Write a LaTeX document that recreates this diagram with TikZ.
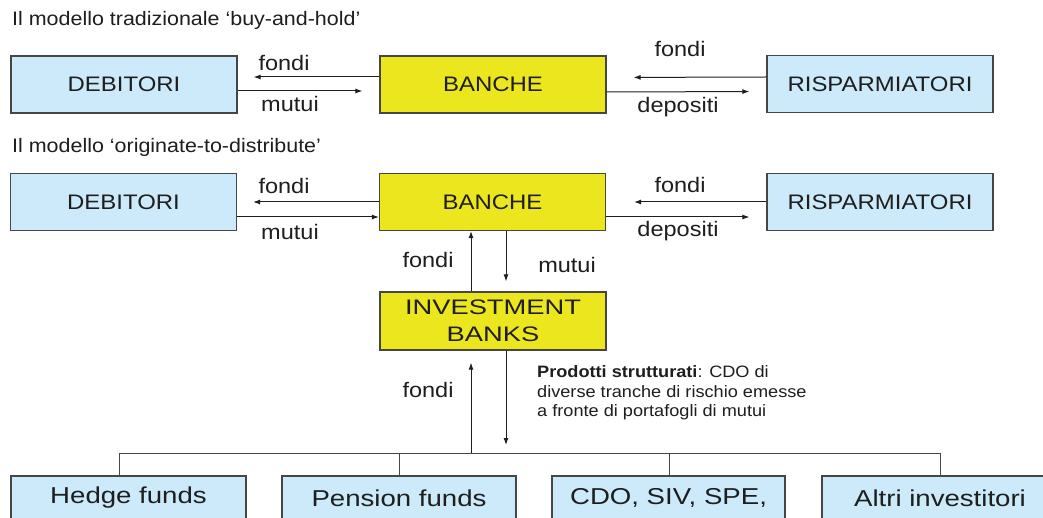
\documentclass[tikz,border=0pt]{standalone}
\usepackage{fontspec}
\setmainfont{Liberation Sans}[FakeStretch=1.1]
\newfontfamily\boxf{Liberation Sans}[FakeStretch=1.14]
\newfontfamily\ibf{Liberation Sans}[FakeStretch=1.3]
\newfontfamily\botf{Liberation Sans}[FakeStretch=1.2]
\newfontfamily\labf{Liberation Sans}[FakeStretch=1.12]
\usetikzlibrary{arrows.meta,calc}
\definecolor{lblue}{RGB}{204,234,250}
\definecolor{ylw}{RGB}{236,230,30}
\definecolor{bord}{RGB}{70,70,70}
\definecolor{txt}{RGB}{30,30,30}
\begin{document}
\begin{tikzpicture}[x=1pt,y=-1pt,
  box/.style={draw=bord, line width=1.2pt, fill=lblue, minimum width=226pt, minimum height=57pt, inner sep=0pt, text=txt, font=\boxf\fontsize{21}{27}\selectfont, align=center},
  ybox/.style={box, fill=ylw},
  fbox/.style={box, minimum height=44pt, font=\botf\fontsize{23}{26}\selectfont},
  lab/.style={text=txt, font=\labf\fontsize{21}{23}\selectfont, inner sep=0pt},
  ttl/.style={text=txt, font=\fontsize{19.5}{22}\selectfont, inner sep=0pt, anchor=west},
  arr/.style={-{Latex[length=7pt,width=5pt]}, line width=1pt, draw=txt},
  ln/.style={line width=1pt, draw=bord},
]
\useasboundingbox (0,0) rectangle (1043,518);
\fill[white] (0,0) rectangle (1043,518);

% ---- row 1
\node[ttl] (t1) at (12,20) {Il modello tradizionale ‘buy-and-hold’};
\node[box] (deb1) at (124,84.5) {DEBITORI};
\node[ybox] (ban1) at (493,84.5) {BANCHE};
\node[box] (ris1) at (880,84) {RISPARMIATORI};
\draw[arr, shorten >=16pt] ([yshift=7.5pt]ban1.west) -- ([yshift=7.5pt]deb1.east);
\draw[arr, shorten >=17pt] ([yshift=-6.5pt]deb1.east) -- ([yshift=-6.5pt]ban1.west);
\draw[arr, shorten >=27pt] ([yshift=7pt]ris1.west) -- ([yshift=7pt]ban1.east);
\draw[arr, shorten >=17pt] ([yshift=-7.5pt]ban1.east) -- ([yshift=-7.5pt]ris1.west);
\node[lab] (f1) at (284,63) {fondi};
\node[lab] (m1) at (290,104) {mutui};
\node[lab] (f2) at (680,49) {fondi};
\node[lab] (d1) at (678,107) {depositi};

% ---- row 2
\node[ttl] (t2) at (12,147) {Il modello ‘originate-to-distribute’};
\node[box] (deb2) at (123.5,202) {DEBITORI};
\node[ybox] (ban2) at (492.5,202) {BANCHE};
\node[box] (ris2) at (880,202) {RISPARMIATORI};
\draw[arr, shorten >=16pt] (ban2.west) -- (deb2.east);
\draw[arr] ([yshift=-15pt]deb2.east) -- ([yshift=-15pt]ban2.west);
\draw[arr, shorten >=28pt] (ris2.west) -- (ban2.east);
\draw[arr, shorten >=17pt] ([yshift=-15pt]ban2.east) -- ([yshift=-15pt]ris2.west);
\node[lab] (f3) at (284,186) {fondi};
\node[lab] (m2) at (290,232) {mutui};
\node[lab] (f4) at (680,185) {fondi};
\node[lab] (d2) at (678,231) {depositi};

% ---- investment banks
\node[ybox, minimum height=58pt, font=\ibf\fontsize{21}{27}\selectfont] (ib) at (493,321) {INVESTMENT\\BANKS};
\draw[arr] ([xshift=-22pt]ib.north) -- ([xshift=-21.5pt]ban2.south);
\draw[arr, shorten >=10pt] ([xshift=13.5pt]ban2.south) -- ([xshift=13pt]ib.north);
\node[lab] (f5) at (428,260) {fondi};
\node[lab] (m3) at (567,265) {mutui};

\coordinate (jn) at (471,453);
\coordinate (dt) at (506,445);
\draw[arr, shorten >=12pt] (jn) -- ([xshift=-22pt]ib.south);
\draw[arr] ([xshift=13pt]ib.south) -- (dt);
\node[lab] (f6) at (428,390) {fondi};
\node[lab, anchor=west, align=left, font=\fontsize{16.5}{19.5}\selectfont] (prod) at (537,393)
  {\textbf{Prodotti strutturati}: CDO di\\diverse tranche di rischio emesse\\a fronte di portafogli di mutui};

% ---- bottom
\node[fbox, minimum width=235pt] (hedge) at (128.5,498) {Hedge funds};
\node[fbox, minimum width=234pt] (pens) at (399,498) {Pension funds};
\node[fbox, minimum width=233pt] (cdo) at (668.5,498) {CDO, SIV, SPE,};
\node[fbox, minimum width=236pt] (altri) at (940,498) {Altri investitori};
\coordinate (h1) at (119,453);
\coordinate (h2) at (399,453);
\coordinate (h3) at (669,453);
\coordinate (h4) at (940,453);
\draw[ln] (h1) -- (h4);
\draw[ln] (h1) -- (h1 |- hedge.north);
\draw[ln] (h2) -- (h2 |- pens.north);
\draw[ln] (h3) -- (h3 |- cdo.north);
\draw[ln] (h4) -- (h4 |- altri.north);
\end{tikzpicture}
\end{document}
